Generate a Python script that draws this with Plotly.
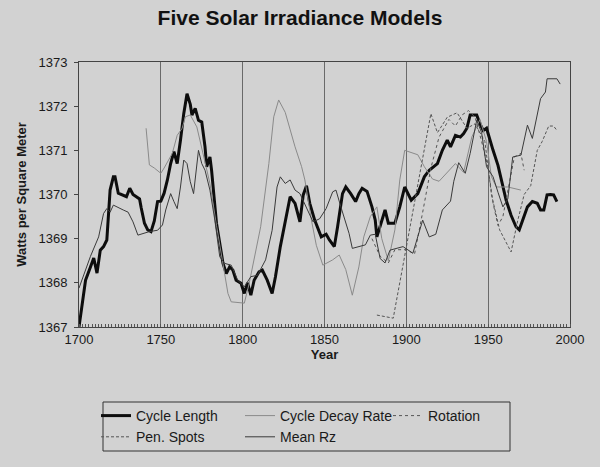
import plotly.graph_objects as go

# ---------------- data ----------------
cl_years = [1700, 1704, 1707, 1709, 1711, 1713, 1715, 1717, 1719, 1721, 1722, 1724, 1729, 1731, 1733,
            1737, 1738, 1740, 1742, 1744, 1746, 1748, 1750, 1752, 1754, 1756, 1758, 1760, 1762, 1764,
            1766, 1768, 1769, 1771, 1773, 1775, 1777, 1778, 1780, 1781, 1784, 1786, 1788, 1790, 1792,
            1794, 1796, 1799, 1801, 1803, 1805, 1807, 1810, 1812, 1815, 1818, 1820, 1823, 1826, 1829,
            1832, 1835, 1837, 1839, 1841, 1844, 1848, 1851, 1853, 1856, 1858, 1861, 1863, 1866, 1869,
            1871, 1873, 1876, 1879, 1881, 1882, 1885, 1887, 1889, 1893, 1896, 1899, 1903, 1907, 1911,
            1914, 1919, 1922, 1925, 1927, 1930, 1933, 1935, 1937, 1939, 1941, 1943, 1945, 1947, 1949,
            1951, 1953, 1956, 1959, 1961, 1964, 1967, 1969, 1971, 1974, 1977, 1980, 1982, 1984, 1986,
            1988, 1990, 1992]
cl_vals = [1367.00, 1368.06, 1368.36, 1368.56, 1368.22, 1368.74, 1368.82, 1368.97, 1370.10, 1370.40,
           1370.40, 1370.03, 1369.95, 1370.14, 1370.00, 1369.90, 1369.70, 1369.35, 1369.20, 1369.16,
           1369.40, 1369.84, 1369.85, 1370.03, 1370.33, 1370.70, 1370.97, 1370.70, 1371.23, 1371.83,
           1372.28, 1372.04, 1371.80, 1371.95, 1371.68, 1371.64, 1371.08, 1370.63, 1370.85, 1370.55,
           1369.35, 1368.90, 1368.44, 1368.21, 1368.36, 1368.29, 1368.06, 1367.99, 1367.76, 1368.00,
           1367.72, 1368.06, 1368.25, 1368.29, 1368.06, 1367.76, 1368.13, 1368.82, 1369.42, 1369.95,
           1369.80, 1369.38, 1369.99, 1370.20, 1369.80, 1369.42, 1369.04, 1369.10, 1368.97, 1368.82,
           1369.27, 1370.02, 1370.17, 1370.02, 1369.84, 1370.02, 1370.14, 1370.07, 1369.72, 1369.42,
           1369.04, 1369.42, 1369.65, 1369.35, 1369.35, 1369.72, 1370.17, 1369.87, 1370.02, 1370.40,
           1370.55, 1370.70, 1371.00, 1371.23, 1371.08, 1371.34, 1371.30, 1371.38, 1371.50, 1371.80,
           1371.80, 1371.80, 1371.60, 1371.45, 1371.50, 1371.23, 1371.00, 1370.66, 1370.17, 1369.87,
           1369.53, 1369.27, 1369.20, 1369.42, 1369.72, 1369.84, 1369.80, 1369.65, 1369.65, 1369.99,
           1370.00, 1369.99, 1369.84]

cdr_years = [1741, 1743, 1746, 1750, 1752, 1757, 1760, 1763, 1765, 1768, 1772, 1776, 1780, 1784, 1788,
             1791, 1793, 1801, 1804, 1806, 1811, 1816, 1819, 1822, 1826, 1832, 1836, 1838, 1842, 1845,
             1849, 1855, 1859, 1863, 1867, 1871, 1874, 1878, 1882, 1885, 1889, 1893, 1896, 1899, 1903,
             1907, 1911, 1916, 1920, 1925, 1930, 1935, 1940, 1945, 1949, 1952, 1955, 1962, 1970]
cdr_vals = [1371.50, 1370.67, 1370.60, 1370.48, 1370.60, 1370.93, 1371.34, 1371.50, 1371.76, 1371.80,
            1371.53, 1370.90, 1370.25, 1369.30, 1368.44, 1367.76, 1367.57, 1367.54, 1367.99, 1368.36,
            1369.27, 1370.70, 1371.76, 1372.14, 1371.86, 1371.08, 1370.63, 1370.33, 1369.42, 1368.85,
            1368.40, 1368.52, 1368.63, 1368.30, 1367.72, 1368.36, 1369.04, 1369.50, 1369.72, 1369.00,
            1368.50, 1369.20, 1370.33, 1371.00, 1370.95, 1370.90, 1370.63, 1370.35, 1370.30, 1370.50,
            1370.70, 1370.50, 1371.30, 1371.70, 1371.20, 1370.40, 1370.17, 1370.17, 1370.10]

rot_years = [1879, 1884, 1889, 1893, 1900, 1905, 1910, 1915, 1920, 1926, 1930, 1934, 1938, 1942, 1946,
             1950, 1953, 1956, 1959, 1963, 1966, 1970, 1972]
rot_vals = [1369.00, 1368.60, 1368.45, 1368.75, 1368.75, 1368.65, 1369.60, 1370.60, 1371.30, 1371.70,
            1371.55, 1371.80, 1371.90, 1371.75, 1371.20, 1370.60, 1369.80, 1369.30, 1369.50, 1370.30,
            1370.85, 1370.93, 1370.55]

pen_years = [1882, 1892, 1915, 1919, 1925, 1931, 1937, 1942, 1948, 1952, 1957, 1961, 1964, 1968, 1972,
             1976, 1980, 1983, 1987, 1990, 1992]
pen_vals = [1367.27, 1367.20, 1371.83, 1371.40, 1371.75, 1371.85, 1371.50, 1371.60, 1371.20, 1370.00,
            1369.20, 1368.90, 1368.70, 1369.40, 1370.00, 1370.20, 1371.00, 1371.20, 1371.55, 1371.55,
            1371.45]

rz_years = [1700, 1703, 1707, 1712, 1715, 1717, 1719, 1721, 1723, 1727, 1730, 1733, 1736, 1739, 1743,
            1748, 1751, 1753, 1756, 1758, 1760, 1762, 1764, 1766, 1768, 1770, 1772, 1773, 1775, 1777,
            1780, 1783, 1786, 1789, 1793, 1797, 1801, 1805, 1809, 1814, 1818, 1821, 1823, 1826, 1829,
            1832, 1835, 1840, 1843, 1847, 1851, 1855, 1857, 1860, 1865, 1867, 1872, 1875, 1878, 1881,
            1884, 1887, 1890, 1898, 1904, 1910, 1914, 1918, 1922, 1927, 1929, 1932, 1936, 1939, 1943,
            1946, 1949, 1953, 1956, 1959, 1962, 1965, 1970, 1974, 1977, 1982, 1985, 1986, 1992, 1994]
rz_vals = [1367.88, 1368.20, 1368.60, 1369.04, 1369.57, 1369.68, 1369.60, 1369.76, 1369.72, 1369.65,
           1369.60, 1369.38, 1369.08, 1369.12, 1369.16, 1369.19, 1369.31, 1369.65, 1370.02, 1369.84,
           1369.68, 1370.17, 1370.78, 1370.70, 1370.29, 1370.02, 1370.63, 1371.00, 1370.70, 1370.55,
           1370.10, 1369.42, 1368.59, 1368.44, 1368.40, 1368.06, 1367.91, 1368.14, 1368.17, 1368.52,
           1369.19, 1370.17, 1370.40, 1370.25, 1370.33, 1370.10, 1370.02, 1369.60, 1369.38, 1369.45,
           1369.68, 1370.06, 1370.10, 1369.72, 1369.12, 1368.78, 1368.82, 1368.86, 1369.08, 1369.10,
           1368.55, 1368.45, 1368.74, 1368.82, 1368.67, 1369.42, 1369.04, 1369.10, 1369.65, 1369.85,
           1370.30, 1370.72, 1370.48, 1370.93, 1371.68, 1371.40, 1370.63, 1370.40, 1370.05, 1369.72,
           1369.90, 1370.85, 1370.89, 1371.57, 1371.27, 1372.17, 1372.32, 1372.62, 1372.62, 1372.50]

x_ticks = [1700, 1750, 1800, 1850, 1900, 1950, 2000]
y_ticks = [1367, 1368, 1369, 1370, 1371, 1372, 1373]

# ---------------- figure ----------------
FONT = "Liberation Sans, Arial, sans-serif"
BG = "#d2d2d2"
INK = "#1a1a1a"

# plot area in pixels: left 79, right 570, top 62, bottom 327
PL, PR, PT, PB = 79, 570, 62, 327
PW, PH = PR - PL, PB - PT


def px_x(x):
    return (x - PL) / PW


def px_y(y):
    return (PB - y) / PH


fig = go.Figure()
fig.add_trace(go.Scatter(x=cl_years, y=cl_vals, name="Cycle Length", mode="lines",
                         line=dict(color="#0d0d0d", width=3), legend="legend"))
fig.add_trace(go.Scatter(x=cdr_years, y=cdr_vals, name="Cycle Decay Rate", mode="lines",
                         line=dict(color="#8a8a8a", width=1), legend="legend2"))
fig.add_trace(go.Scatter(x=rot_years, y=rot_vals, name="Rotation", mode="lines",
                         line=dict(color="#555555", width=1, dash="dot"), legend="legend3"))
fig.add_trace(go.Scatter(x=pen_years, y=pen_vals, name="Pen. Spots", mode="lines",
                         line=dict(color="#555555", width=1, dash="3px,2px"), legend="legend"))
fig.add_trace(go.Scatter(x=rz_years, y=rz_vals, name="Mean Rz", mode="lines",
                         line=dict(color="#3a3a3a", width=1), legend="legend2"))

leg_common = dict(orientation="v", xanchor="left", yanchor="top", y=px_y(400),
                  bgcolor="rgba(0,0,0,0)", borderwidth=0, font=dict(size=14, color=INK),
                  itemwidth=30, tracegroupgap=0, traceorder="normal")

fig.update_layout(
    width=600, height=467,
    margin=dict(l=PL, r=600 - PR, t=PT, b=467 - PB, autoexpand=False),
    paper_bgcolor=BG, plot_bgcolor=BG,
    font=dict(family=FONT, color=INK, size=13),
    title=dict(text="<b>Five Solar Irradiance Models</b>", x=0.5, xanchor="center",
               y=1 - 18 / 467, yanchor="middle", font=dict(size=21, color="#111111")),
    showlegend=True,
    legend=dict(x=px_x(96), **leg_common),
    legend2=dict(x=px_x(240), **leg_common),
    legend3=dict(x=px_x(388), **leg_common),
    shapes=[dict(type="rect", xref="paper", yref="paper",
                 x0=px_x(103), x1=px_x(510), y0=px_y(451), y1=px_y(402),
                 line=dict(color="#333333", width=1), fillcolor="rgba(0,0,0,0)", layer="below")],
)
fig.update_xaxes(range=[1700, 2000], tickvals=x_ticks, ticktext=[str(v) for v in x_ticks],
                 automargin=False,
                 showgrid=True, gridcolor="#6a6a6a", gridwidth=1,
                 showline=True, linecolor="#444444", linewidth=1, mirror=True,
                 ticks="", zeroline=False,
                 minor=dict(dtick=2, ticks="inside", ticklen=3, tickcolor="#555555", showgrid=False),
                 tickfont=dict(size=13),
                 title=dict(text="<b>Year</b>", font=dict(size=13), standoff=4))
fig.update_yaxes(range=[1367, 1373], tickvals=y_ticks, ticktext=[str(v) for v in y_ticks],
                 automargin=False,
                 showgrid=False, showline=True, linecolor="#444444", linewidth=1, mirror=True,
                 ticks="outside", ticklen=4, tickcolor="#444444", zeroline=False,
                 ticklabelstandoff=4,
                 tickfont=dict(size=13),
                 title=dict(text="<b>Watts per Square Meter</b>", font=dict(size=13), standoff=8))

fig.write_html("out.html", config={"displayModeBar": False},
               post_script="document.body.style.margin='0';")
